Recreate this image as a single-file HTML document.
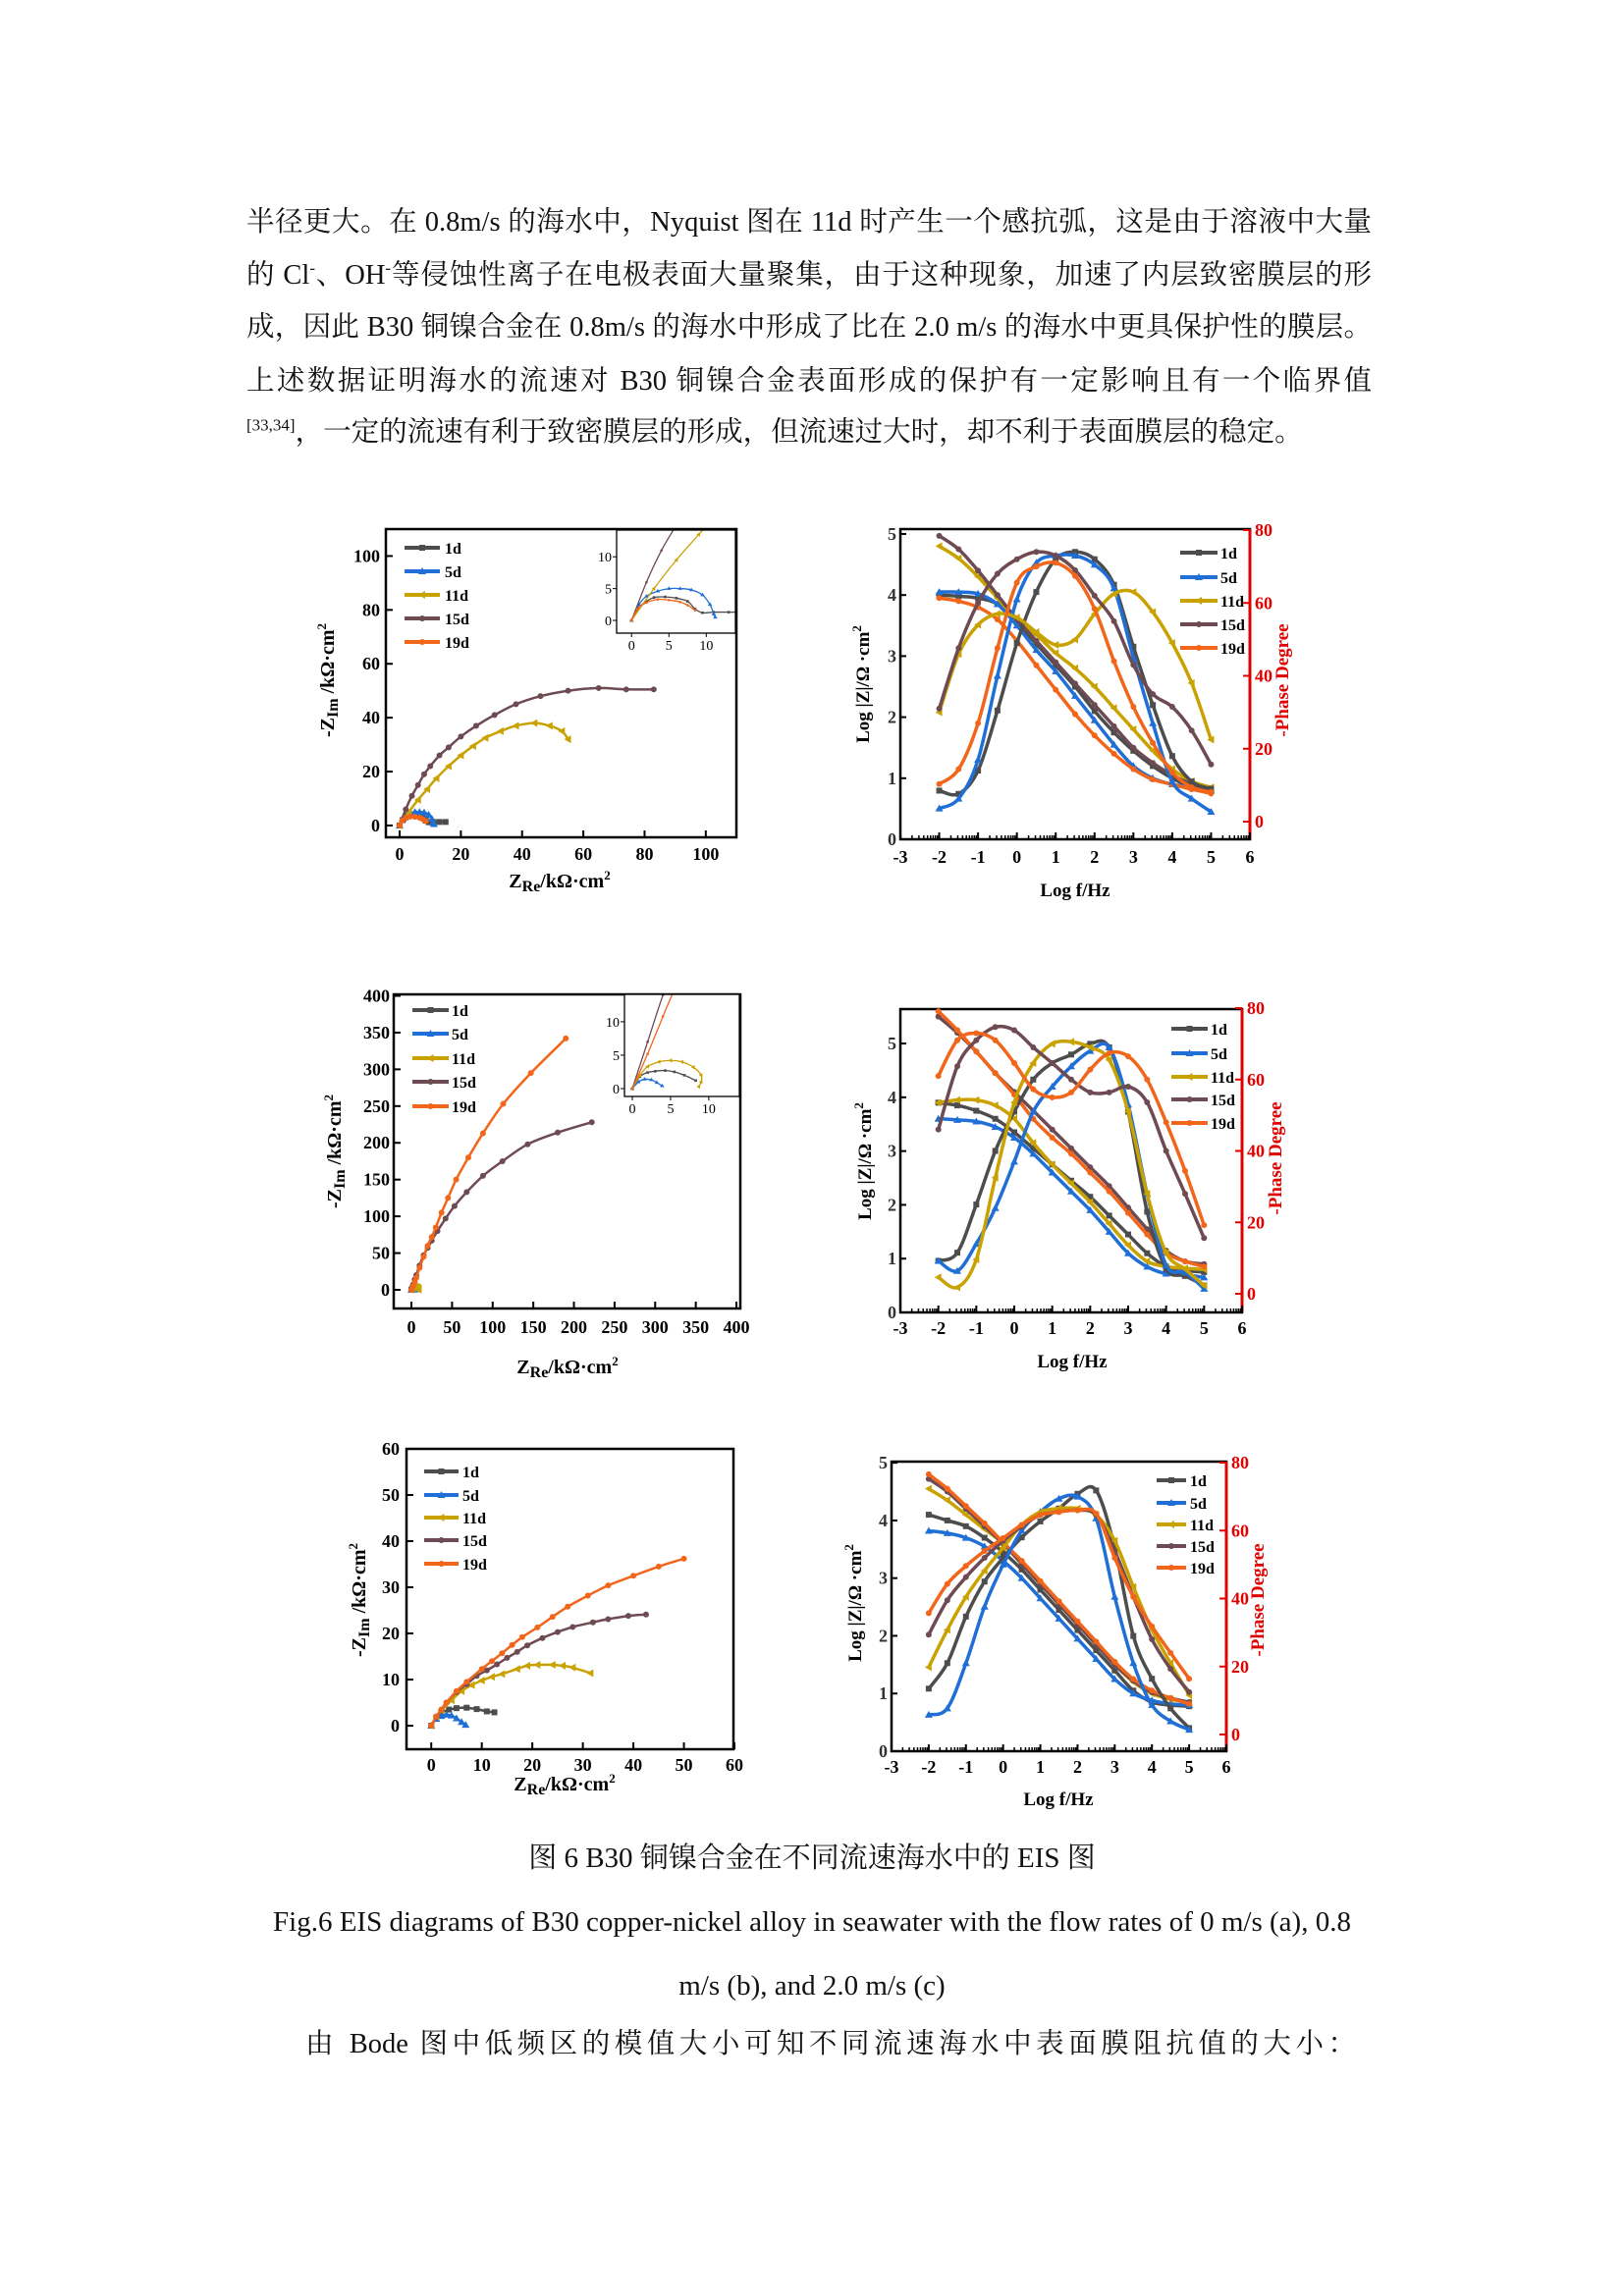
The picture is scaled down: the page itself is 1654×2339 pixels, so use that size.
<!DOCTYPE html>
<html><head><meta charset="utf-8">
<style>
html,body{margin:0;padding:0;background:#fff;}
body{width:1654px;height:2339px;position:relative;overflow:hidden;font-family:"Liberation Serif","Noto Serif CJK SC",serif;color:#111;}
.ln{position:absolute;left:251px;width:1146px;font-size:28.5px;line-height:40px;height:40px;text-align:justify;text-align-last:justify;white-space:nowrap;}
.cap{position:absolute;left:0;width:1654px;text-align:center;font-size:29px;line-height:40px;}
sup{font-size:17px;line-height:0;}
svg{position:absolute;left:0;top:0;}
</style></head>
<body>
<div class="ln" style="top:207px">半径更大。在 0.8m/s 的海水中，Nyquist 图在 11d 时产生一个感抗弧，这是由于溶液中大量</div>
<div class="ln" style="top:261px">的 Cl<sup>-</sup>、OH<sup>-</sup>等侵蚀性离子在电极表面大量聚集，由于这种现象，加速了内层致密膜层的形</div>
<div class="ln" style="top:314px">成，因此 B30 铜镍合金在 0.8m/s 的海水中形成了比在 2.0 m/s 的海水中更具保护性的膜层。</div>
<div class="ln" style="top:369px">上述数据证明海水的流速对 B30 铜镍合金表面形成的保护有一定影响且有一个临界值</div>
<div class="ln" style="top:421px;text-align:left;text-align-last:left;width:1100px"><sup>[33,34]</sup>，一定的流速有利于致密膜层的形成，但流速过大时，却不利于表面膜层的稳定。</div>
<div class="cap" style="top:1873px">图 6 B30 铜镍合金在不同流速海水中的 EIS 图</div>
<div class="cap" style="top:1938px">Fig.6 EIS diagrams of B30 copper-nickel alloy in seawater with the flow rates of 0 m/s (a), 0.8</div>
<div class="cap" style="top:2003px">m/s (b), and 2.0 m/s (c)</div>
<div class="ln" style="top:2063px;left:311px;width:1070px">由 Bode 图中低频区的模值大小可知不同流速海水中表面膜阻抗值的大小：</div>
<svg id="fig" width="1654" height="2339"></svg>
<script>
const seriesNames=['1d','5d','11d','15d','19d'];
const logF=[-2,-1.5,-1,-0.5,0,0.5,1,1.5,2,2.5,3,3.5,4,4.5,5];
// ---- Chart a (0 m/s) Nyquist ----
const aNyq1d=[[0,0],[1,2],[2,3],[3,3.6],[4.5,3.7],[6,3.5],[7.5,3],[8.5,1.8],[9.5,1.2],[11,1.3],[13,1.3],[15,1.3]];
const aNyq5d=[[0,0],[1,2.5],[2,3.8],[3.5,4.6],[5,5],[6.5,5],[8,4.8],[9.5,4],[10.5,2.5],[11,1],[11.2,0.5]];
const aNyq11d=[[0,0],[3,5],[6,9.5],[9,13.5],[12,17.5],[16,22],[20,26],[24,29.5],[28,32.5],[33,35],[38,37],[44,38],[49,37],[53,35],[55,32]];
const aNyq15d=[[0,0],[2,6],[4,11],[6,15],[8,19],[10,22],[13,26],[16,29],[20,33],[25,37],[31,41],[38,45],[46,48],[55,50],[65,51],[74,50.5],[83,50.5]];
const aNyq19d=[[0,0],[0.8,1.8],[2,2.8],[3.5,3.3],[5,3.2],[6.5,2.9],[7.5,2.4],[8.5,1.6]];
const aMod1d=[4.0,3.98,3.95,3.85,3.55,3.2,2.85,2.5,2.1,1.75,1.45,1.2,1.0,0.85,0.8];
const aMod5d=[4.05,4.05,4.02,3.85,3.5,3.1,2.75,2.35,1.95,1.55,1.2,1.0,0.9,0.85,0.8];
const aMod11d=[4.8,4.6,4.3,3.95,3.6,3.35,3.05,2.8,2.5,2.15,1.8,1.45,1.15,0.95,0.85];
const aMod15d=[4.97,4.75,4.4,4.0,3.6,3.25,2.9,2.55,2.2,1.85,1.5,1.25,1.05,0.9,0.8];
const aMod19d=[3.95,3.9,3.8,3.6,3.25,2.85,2.45,2.05,1.7,1.4,1.15,0.98,0.9,0.82,0.75];
const aPh1d=[8.5,7.6,14,30.5,49,63,72,74,72,65,48,32,18,11,9];
const aPh5d=[3.6,6.3,17,40,61,71,73,73,70.5,64,45,27,11,6.3,2.7];
const aPh11d=[30,46,54,57,56,52,48.5,50,57,62.5,63,57.5,49,38,22.5];
const aPh15d=[31,47.6,60,68,72,74,73,69,62,55,43,35,31.5,25,15.7];
const aPh19d=[10.3,14.4,27,47.6,65.6,70,71,67.4,58.4,44,31.5,21.6,13.5,9.4,8.1];
// ---- Chart b (0.8 m/s) ----
const bNyq1d=[[0,0],[1,1.8],[2,2.4],[3,2.6],[4.3,2.7],[5.5,2.5],[6.8,2],[8.3,1.2]];
const bNyq5d=[[0,0],[0.8,1],[1.6,1.4],[2.5,1.3],[3.2,0.9],[3.9,0.4]];
const bNyq11d=[[0,0],[1,2],[2,3.3],[3.5,4],[5,4.2],[6.5,4],[8,3.2],[9,2],[9,1],[8.7,0.3]];
const bNyq15d=[[0,0],[2,7],[4,14],[6,20],[10,33],[15,47],[20,57],[25,67],[32,80],[42,97],[53,114],[68,133],[88,155],[112,175],[143,198],[180,214],[222,228]];
const bNyq19d=[[0,0],[2,5.2],[4,10.8],[6,16.5],[10,30],[15,45],[20,60],[25,72],[30,85],[37,105],[45,125],[55,150],[70,180],[88,213],[113,253],[147,295],[190,342]];
const bMod1d=[3.9,3.85,3.75,3.6,3.35,3.05,2.75,2.45,2.15,1.8,1.45,1.1,0.85,0.78,0.75];
const bMod5d=[3.6,3.58,3.55,3.45,3.25,2.95,2.6,2.25,1.9,1.5,1.1,0.85,0.72,0.7,0.65];
const bMod11d=[3.9,3.95,3.95,3.85,3.6,3.15,2.75,2.4,2.05,1.65,1.25,0.95,0.85,0.82,0.8];
const bMod15d=[5.5,5.2,4.85,4.45,4.1,3.75,3.4,3.05,2.7,2.35,1.95,1.55,1.15,0.95,0.9];
const bMod19d=[5.6,5.25,4.85,4.45,4.05,3.6,3.25,2.95,2.6,2.25,1.85,1.45,1.1,0.95,0.85];
const bPh1d=[9.2,11.5,25,40,51,60,64.6,67,70,69,51,23,7,5,2.3];
const bPh5d=[9.2,6.4,14,24,37,51,58,63.7,68,69,53,28,8,6,1.4];
const bPh11d=[4.6,1.8,9.6,32.5,53.6,64.6,70,70.6,69,65.5,51,28,11.5,6.9,2.3];
const bPh15d=[46,63.7,71,74.7,73.8,69,64.6,60,56.4,56.4,58,53.6,40,28,15.6];
const bPh19d=[61,71,73,71,64.6,57.3,55,56.4,62.8,67.4,66.5,60,48,34.4,19.2];
// ---- Chart c (2.0 m/s) ----
const cNyq1d=[[0,0],[1,1.8],[2,2.8],[3.5,3.5],[5,3.8],[7,3.9],[9,3.6],[11,3.1],[12.5,2.9]];
const cNyq5d=[[0,0],[1,1.5],[2,2.1],[3,2.4],[4,2.2],[5,1.6],[6,0.8],[6.8,0.2]];
const cNyq11d=[[0,0],[1,2],[2,3.3],[4,5.5],[6,7.5],[8,8.8],[10,9.8],[12,10.6],[14,11.2],[17,12.3],[19,13],[21,13.2],[24,13.2],[26,13],[28,12.6],[31.5,11.4]];
const cNyq15d=[[0,0],[1,2],[2,3.5],[3,5],[5,7.3],[7,9],[9,10.8],[11,12],[13,13.3],[15,14.7],[17,16],[19,17.4],[22,19],[25,20.3],[28,21.4],[32,22.4],[35,23.1],[39,23.8],[42.5,24.1]];
const cNyq19d=[[0,0],[1,2],[2,3.5],[3,5],[5,7.5],[7,9.5],[10,12.3],[12,14],[14,15.7],[16,17.5],[18,19.2],[21,21.3],[24,23.6],[27,25.8],[31,28.2],[35,30.4],[40,32.5],[45,34.5],[50,36.2]];
const cMod1d=[4.1,4.0,3.9,3.7,3.45,3.15,2.8,2.45,2.1,1.75,1.4,1.05,0.85,0.8,0.78];
const cMod5d=[3.82,3.78,3.7,3.55,3.3,3.0,2.65,2.3,1.95,1.6,1.25,1.0,0.88,0.82,0.8];
const cMod11d=[4.55,4.35,4.1,3.85,3.6,3.25,2.9,2.55,2.2,1.85,1.5,1.2,1.0,0.9,0.85];
const cMod15d=[4.72,4.5,4.2,3.9,3.6,3.25,2.9,2.55,2.2,1.85,1.5,1.22,1.02,0.92,0.85];
const cMod19d=[4.8,4.55,4.25,3.95,3.62,3.3,2.95,2.6,2.25,1.9,1.55,1.25,1.05,0.92,0.82];
const cPh1d=[13.5,21,34.7,45,52,58,62.7,66.5,70.8,71.8,55,29,16.4,7.7,1.9];
const cPh5d=[5.8,7.7,21,37.6,50,60,65.5,69.4,70,63.6,40.5,21,8.7,3.9,1.4];
const cPh11d=[19.8,30.8,40.5,48.2,55,61.7,65.5,66.5,66.5,64.6,57,43.4,30.8,21,11.6];
const cPh15d=[29.4,39.5,46.3,52,57,61.2,64.6,65.5,66,64.6,54,40.5,28,19.3,12.5];
const cPh19d=[35.7,44.3,49.6,54,57.8,61.7,64.6,65.5,66,65,52,40.5,31.8,24,16.4];
const nyqTicksA=[0,20,40,60,80,100];
const nyqTicksB=[0,50,100,150,200,250,300,350,400];
const nyqTicksC=[0,10,20,30,40,50,60];
const insetTicks=[0,5,10];
const bodeXTicks=[-3,-2,-1,0,1,2,3,4,5,6];
const modTicks=[0,1,2,3,4,5];
const phTicks=[0,20,40,60,80];

const colors=['#4d4d4d','#1f6fd6','#c9a200','#6e4a52','#f2661b'];
const NS='http://www.w3.org/2000/svg';
const svg=document.getElementById('fig');
function el(tag,at,par){const e=document.createElementNS(NS,tag);for(const k in at)e.setAttribute(k,at[k]);(par||svg).appendChild(e);return e;}
function txt(s,x,y,at,par){const t=el('text',Object.assign({x:x,y:y,'font-family':'Liberation Serif, serif','font-weight':'bold','font-size':18},at),par);t.textContent=s;return t;}
function lin(d0,d1,p0,p1){return v=>p0+(v-d0)/(d1-d0)*(p1-p0);}
function smooth(pts){let d='M'+pts[0][0].toFixed(1)+','+pts[0][1].toFixed(1);
 for(let i=0;i<pts.length-1;i++){const p0=pts[i-1]||pts[i],p1=pts[i],p2=pts[i+1],p3=pts[i+2]||p2;
  const c1=[p1[0]+(p2[0]-p0[0])/6,p1[1]+(p2[1]-p0[1])/6],c2=[p2[0]-(p3[0]-p1[0])/6,p2[1]-(p3[1]-p1[1])/6];
  d+='C'+c1[0].toFixed(1)+','+c1[1].toFixed(1)+' '+c2[0].toFixed(1)+','+c2[1].toFixed(1)+' '+p2[0].toFixed(1)+','+p2[1].toFixed(1);}
 return d;}
function marker(k,x,y,c,r,par){
 if(k===0)return el('rect',{x:x-r,y:y-r,width:2*r,height:2*r,fill:c},par);
 if(k===1)return el('polygon',{points:`${x},${y-r-1} ${x-r-1},${y+r} ${x+r+1},${y+r}`,fill:c},par);
 if(k===2)return el('polygon',{points:`${x-r-1},${y} ${x+r},${y-r-1} ${x+r},${y+r+1}`,fill:c},par);
 return el('circle',{cx:x,cy:y,r:r,fill:c},par);}
function drawSeries(g,pts,k,sw,mr,name){
 const p=el('path',{d:smooth(pts),fill:'none',stroke:colors[k],'stroke-width':sw},g);
 
 
 pts.forEach(q=>{const m=marker(k,q[0],q[1],colors[k],mr,g);
  
  });}
function frame(g,X0,Y0,X1,Y1,sw){const r=el('rect',{x:X0,y:Y0,width:X1-X0,height:Y1-Y0,fill:'none',stroke:'#000','stroke-width':sw},g);
 
 }
function legend(g,lx0,lx1,tx,rows,fs){seriesNames.forEach((n,k)=>{
 const l=el('line',{x1:lx0,x2:lx1,y1:rows[k],y2:rows[k],stroke:colors[k],'stroke-width':4},g);
 
 
 const m=marker(k,(lx0+lx1)/2,rows[k],colors[k],3,g);
 
 
 const t=txt(n,tx,rows[k]+6,{'font-size':fs},g);
 
 });}

function nyquist(id,G,nyq,xt,yt,leg,ins,labels){
 const g=el('g',{});
 
 
 const sx=lin(G.xmin,G.xmax,G.X0,G.X1),sy=lin(G.ymin,G.ymax,G.Y1,G.Y0);
 const cp=el('clipPath',{id:'cp'+id},g);el('rect',{x:G.X0,y:G.Y0,width:G.X1-G.X0,height:G.Y1-G.Y0},cp);
 xt.forEach(v=>{el('line',{x1:sx(v),x2:sx(v),y1:G.Y1,y2:G.Y1-7,stroke:'#000','stroke-width':2},g);
  const t=txt(String(v),sx(v),labels.xty,{'text-anchor':'middle'},g);
  
  });
 yt.forEach(v=>{el('line',{x1:G.X0,x2:G.X0+7,y1:sy(v),y2:sy(v),stroke:'#000','stroke-width':2},g);
  const t=txt(String(v),labels.ytx,sy(v)+6,{'text-anchor':'end'},g);
  
  });
 const gd=el('g',{'clip-path':'url(#cp'+id+')'},g);
 nyq.forEach((s,k)=>drawSeries(gd,s.map(p=>[sx(p[0]),sy(p[1])]),k,2.5,3,'nyquist-'+id+'-'+seriesNames[k]));
 frame(g,G.X0,G.Y0,G.X1,G.Y1,2.5);
 legend(g,leg.l0,leg.l1,leg.tx,leg.rows,16);
 const yl=txt('',0,0,{transform:`translate(${labels.yl[0]},${labels.yl[1]}) rotate(-90)`,'text-anchor':'middle','font-size':20},g);
 yl.innerHTML='-Z<tspan font-size="16" dy="4">Im</tspan><tspan dy="-4"> /kΩ·cm</tspan><tspan font-size="13" dy="-8">2</tspan>';
 
 
 const xl=txt('',labels.xl[0],labels.xl[1],{'text-anchor':'middle','font-size':20},g);
 xl.innerHTML='Z<tspan font-size="16" dy="4">Re</tspan><tspan dy="-4">/kΩ·cm</tspan><tspan font-size="13" dy="-8">2</tspan>';
 
 
 if(ins){const gi=el('g',{},g);
  
  
  el('rect',{x:ins.X0,y:ins.Y0,width:ins.X1-ins.X0,height:ins.Y1-ins.Y0,fill:'#fff'},gi);
  const ix=lin(ins.xmin,ins.xmax,ins.X0,ins.X1),iy=lin(ins.ymin,ins.ymax,ins.Y1,ins.Y0);
  const c2=el('clipPath',{id:'ci'+id},gi);el('rect',{x:ins.X0,y:ins.Y0,width:ins.X1-ins.X0,height:ins.Y1-ins.Y0},c2);
  const gdi=el('g',{'clip-path':'url(#ci'+id+')'},gi);
  nyq.forEach((s,k)=>drawSeries(gdi,s.map(p=>[ix(p[0]),iy(p[1])]),k,1.3,1.3,'inset-'+id+'-'+seriesNames[k]));
  frame(gi,ins.X0,ins.Y0,ins.X1,ins.Y1,1.3);
  insetTicks.forEach(v=>{
   el('line',{x1:ix(v),x2:ix(v),y1:ins.Y1,y2:ins.Y1+4,stroke:'#000','stroke-width':1},gi);
   el('line',{x1:ins.X0,x2:ins.X0-4,y1:iy(v),y2:iy(v),stroke:'#000','stroke-width':1},gi);
   const a=txt(String(v),ix(v),ins.Y1+17,{'text-anchor':'middle','font-size':14,'font-weight':'normal'},gi);
   
   
   const b=txt(String(v),ins.X0-5,iy(v)+5,{'text-anchor':'end','font-size':14,'font-weight':'normal'},gi);
   
   });}
}

function bode(id,G,mods,phs,leg,labels){
 const g=el('g',{});
 
 
 const sx=lin(-3,6,G.X0,G.X1),sy=lin(0,G.ymax,G.Y1,G.Y0),sp=lin(0,80,G.P0,G.P80);
 frame(g,G.X0,G.Y0,G.X1,G.Y1,2.5);
 el('line',{x1:G.X1,x2:G.X1,y1:G.Y0,y2:G.Y1,stroke:'#e00000','stroke-width':3},g);
 bodeXTicks.forEach(v=>{el('line',{x1:sx(v),x2:sx(v),y1:G.Y1,y2:G.Y1-7,stroke:'#000','stroke-width':2},g);
  if(v<6)for(let j=2;j<10;j++){const xx=sx(v+Math.log10(j));el('line',{x1:xx,x2:xx,y1:G.Y1,y2:G.Y1-4,stroke:'#000','stroke-width':1.5},g);}
  const t=txt(String(v),sx(v),labels.xty,{'text-anchor':'middle'},g);
  
  });
 modTicks.forEach(v=>{el('line',{x1:G.X0,x2:G.X0+6,y1:sy(v),y2:sy(v),stroke:'#000','stroke-width':2},g);
  const t=txt(String(v),G.X0-4,sy(v)+6,{'text-anchor':'end','fill':'#333'},g);
  
  });
 phTicks.forEach(v=>{el('line',{x1:G.X1,x2:G.X1-7,y1:sp(v),y2:sp(v),stroke:'#e00000','stroke-width':2},g);
  const t=txt(String(v),G.X1+5,sp(v)+6,{'fill':'#e00000'},g);
  
  });
 mods.forEach((m,k)=>drawSeries(g,logF.map((f,i)=>[sx(f),sy(m[i])]),k,3.5,3,'modulus-'+id+'-'+seriesNames[k]));
 phs.forEach((m,k)=>drawSeries(g,logF.map((f,i)=>[sx(f),sp(m[i])]),k,3.5,3,'phase-'+id+'-'+seriesNames[k]));
 legend(g,leg.l0,leg.l1,leg.tx,leg.rows,16);
 const yl=txt('',0,0,{transform:`translate(${labels.yl[0]},${labels.yl[1]}) rotate(-90)`,'text-anchor':'middle','font-size':19},g);
 yl.innerHTML='Log |Z|/Ω ·cm<tspan font-size="13" dy="-8">2</tspan>';
 
 
 const yr=txt('-Phase Degree',0,0,{transform:`translate(${labels.yr[0]},${labels.yr[1]}) rotate(-90)`,'text-anchor':'middle','font-size':19,fill:'#e00000'},g);
 
 
 const xl=txt('Log f/Hz',labels.xl[0],labels.xl[1],{'text-anchor':'middle','font-size':19},g);
 
 
}

nyquist('a',{X0:393,X1:750,Y0:539,Y1:853,xmin:-4.5,xmax:110,ymin:-4.4,ymax:110},
 [aNyq1d,aNyq5d,aNyq11d,aNyq15d,aNyq19d],nyqTicksA,[0,20,40,60,80,100],
 {l0:412,l1:448,tx:453,rows:[558,582,606,630,654]},
 {X0:628,X1:749,Y0:540,Y1:645,xmin:-2,xmax:13.9,ymin:-2,ymax:14.2},
 {xty:876,ytx:387,yl:[340,693],xl:[570,904]});
bode('a',{X0:917,X1:1273,Y0:539,Y1:855,ymax:5.08,P0:837,P80:540},
 [aMod1d,aMod5d,aMod11d,aMod15d,aMod19d],[aPh1d,aPh5d,aPh11d,aPh15d,aPh19d],
 {l0:1202,l1:1240,tx:1243,rows:[563,588,612,636,660]},
 {xty:879,yl:[885,697],yr:[1312,693],xl:[1095,913]});
nyquist('b',{X0:401,X1:754,Y0:1013,Y1:1333,xmin:-21.8,xmax:404.8,ymin:-25.4,ymax:402},
 [bNyq1d,bNyq5d,bNyq11d,bNyq15d,bNyq19d],nyqTicksB,nyqTicksB,
 {l0:420,l1:457,tx:460,rows:[1029,1053,1078,1102,1127]},
 {X0:636,X1:753,Y0:1013,Y1:1117,xmin:-1.03,xmax:14,ymin:-1.18,ymax:14.1},
 {xty:1358,ytx:397,yl:[347,1173],xl:[578,1399]});
bode('b',{X0:917,X1:1265,Y0:1028,Y1:1337,ymax:5.64,P0:1318,P80:1027},
 [bMod1d,bMod5d,bMod11d,bMod15d,bMod19d],[bPh1d,bPh5d,bPh11d,bPh15d,bPh19d],
 {l0:1193,l1:1230,tx:1233,rows:[1048,1073,1097,1120,1144]},
 {xty:1359,yl:[887,1183],yr:[1305,1180],xl:[1092,1393]});
nyquist('c',{X0:414,X1:747,Y0:1476,Y1:1782,xmin:-4.9,xmax:59.8,ymin:-5.1,ymax:60},
 [cNyq1d,cNyq5d,cNyq11d,cNyq15d,cNyq19d],nyqTicksC,nyqTicksC,
 {l0:432,l1:467,tx:471,rows:[1499,1523,1546,1569,1593]},
 null,
 {xty:1804,ytx:407,yl:[372,1630],xl:[575,1824]});
bode('c',{X0:908,X1:1249,Y0:1489,Y1:1784,ymax:5.02,P0:1767,P80:1490},
 [cMod1d,cMod5d,cMod11d,cMod15d,cMod19d],[cPh1d,cPh5d,cPh11d,cPh15d,cPh19d],
 {l0:1178,l1:1208,tx:1212,rows:[1508,1531,1553,1575,1597]},
 {xty:1806,yl:[877,1633],yr:[1287,1630],xl:[1078,1839]});
</script>
</body></html>
